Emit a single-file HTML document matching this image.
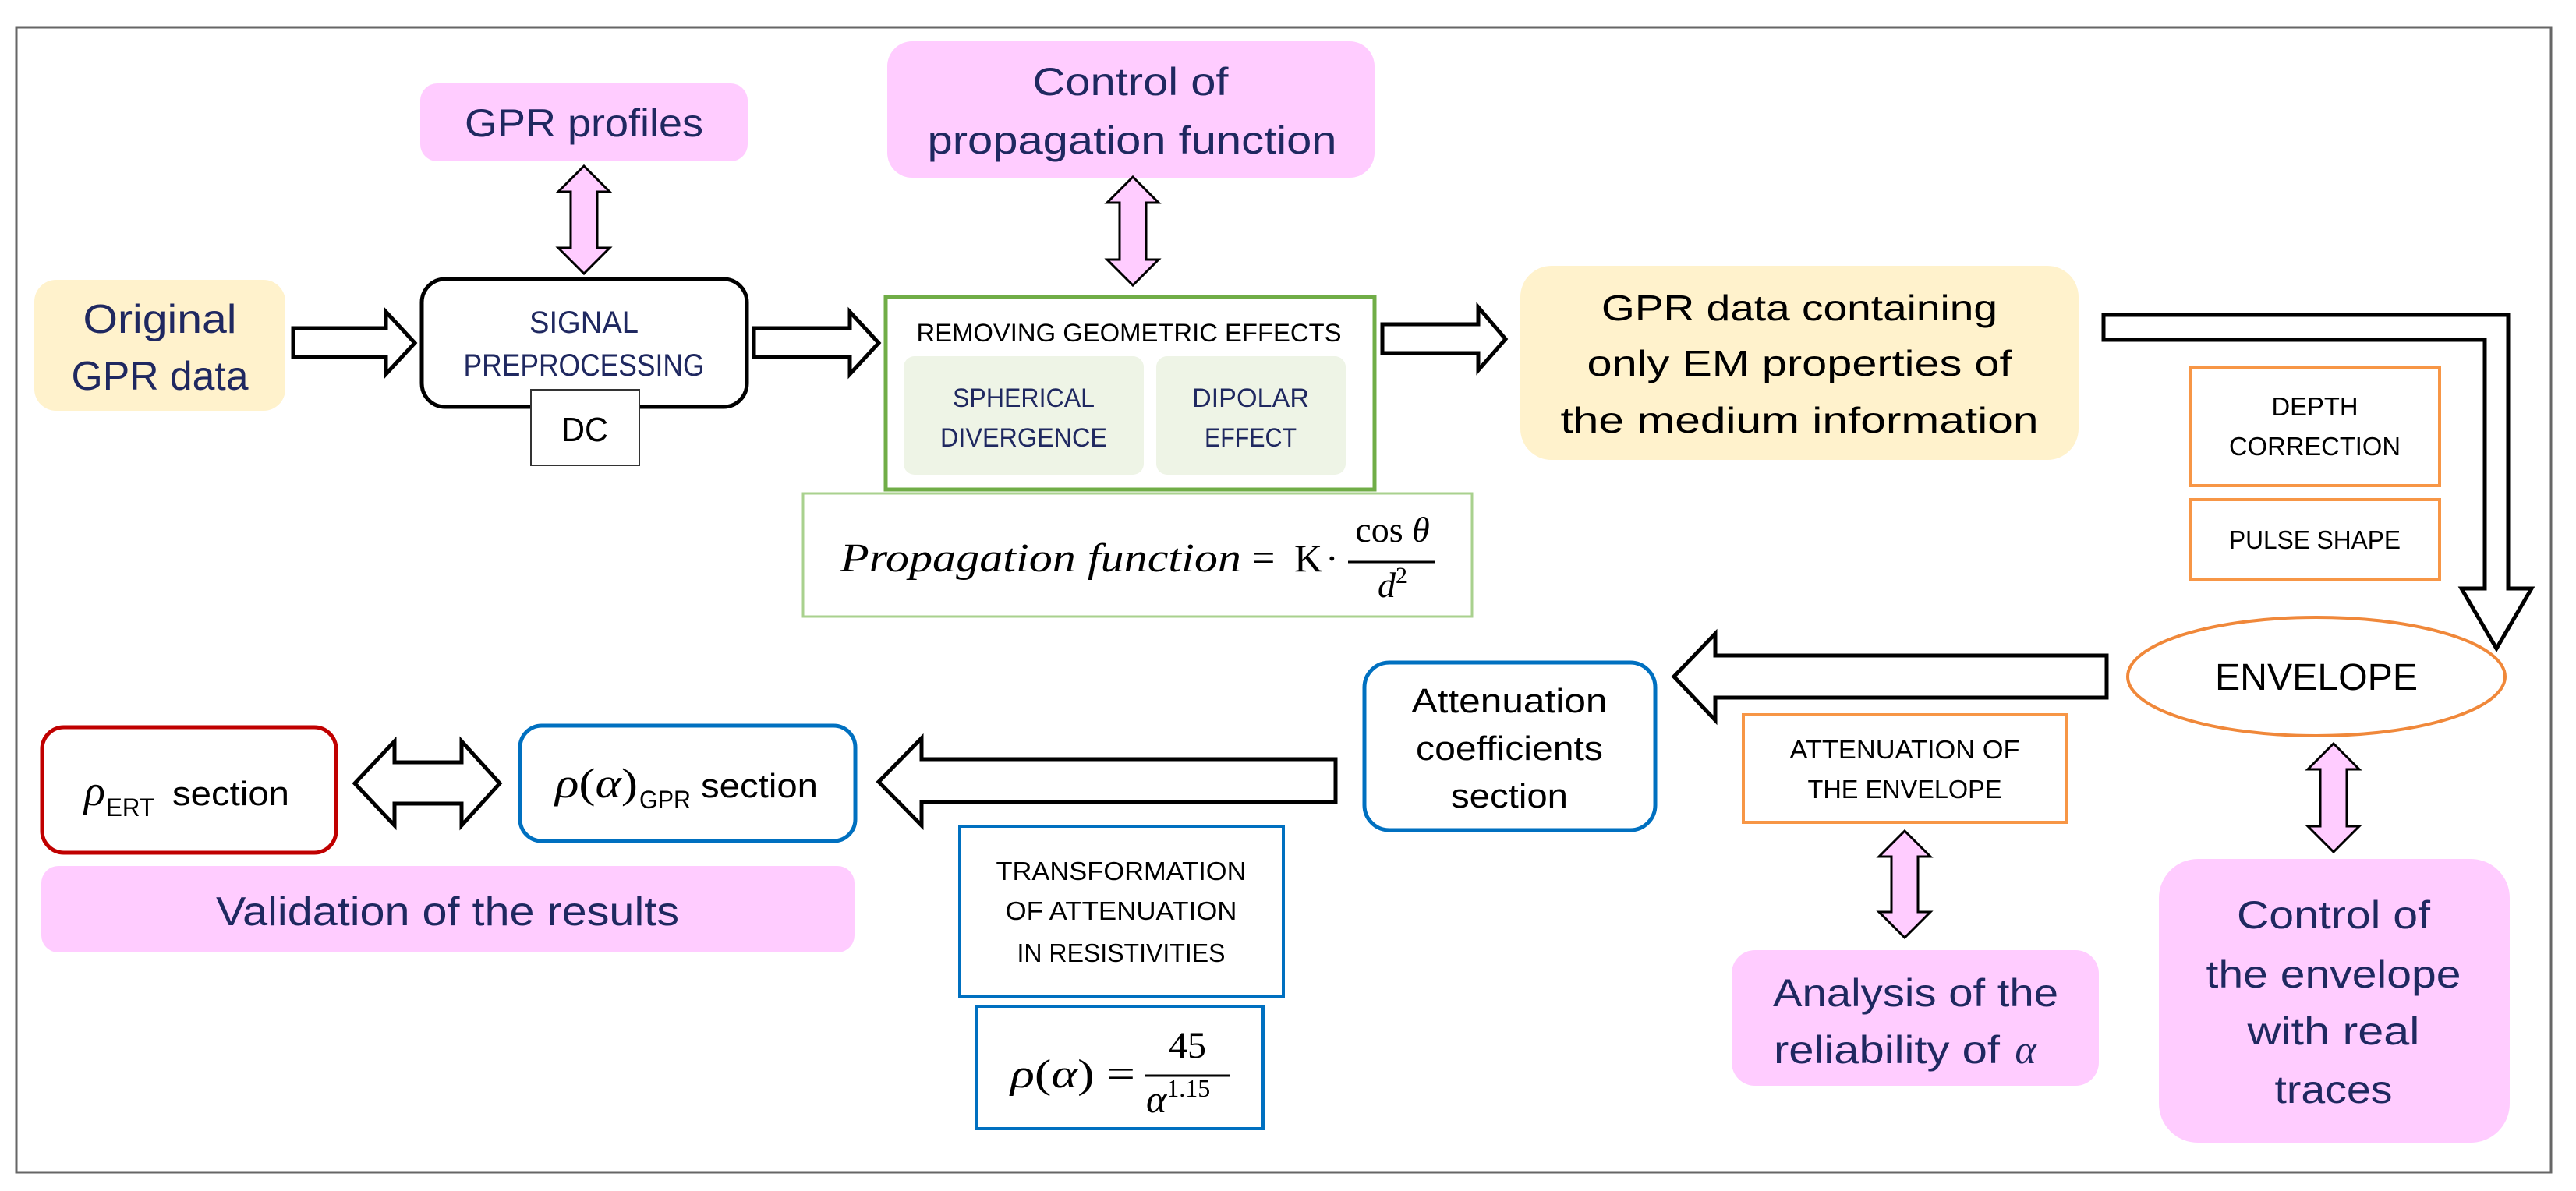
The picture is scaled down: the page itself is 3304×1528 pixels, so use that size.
<!DOCTYPE html>
<html><head><meta charset="utf-8"><style>
html,body{margin:0;padding:0;background:#fff}
svg{display:block}
text{font-family:"Liberation Sans",sans-serif}
.n{fill:#1f2860}
.k{fill:#000}
.m{font-family:"Liberation Serif",serif}
</style></head><body>
<svg width="3304" height="1528" viewBox="0 0 3304 1528" xmlns="http://www.w3.org/2000/svg">
<rect x="0" y="0" width="3304" height="1528" fill="#fff"/>
<rect x="21" y="35" width="3251" height="1469" fill="none" stroke="#666" stroke-width="3"/>

<rect x="539" y="107" width="420" height="100" rx="22" fill="#ffccff"/>
<text x="749" y="175" font-size="50" text-anchor="middle" class="n" textLength="306" lengthAdjust="spacingAndGlyphs">GPR profiles</text>
<rect x="1138" y="53" width="625" height="175" rx="32" fill="#ffccff"/>
<text x="1450" y="122" font-size="50" text-anchor="middle" class="n" textLength="251" lengthAdjust="spacingAndGlyphs">Control of</text>
<text x="1452" y="197" font-size="50" text-anchor="middle" class="n" textLength="525" lengthAdjust="spacingAndGlyphs">propagation function</text>

<g fill="#ffccff" stroke="#000" stroke-width="3" stroke-linejoin="miter">
<path d="M749,213 L782,246 L766,246 L766,318 L782,318 L749,351 L716,318 L732,318 L732,246 L716,246 Z"/>
<path d="M1453,227 L1486,260 L1470,260 L1470,333 L1486,333 L1453,366 L1420,333 L1436,333 L1436,260 L1420,260 Z"/>
<path d="M2443,1066 L2476,1099 L2460,1099 L2460,1170 L2476,1170 L2443,1203 L2410,1170 L2426,1170 L2426,1099 L2410,1099 Z"/>
<path d="M2993,954 L3026,987 L3010,987 L3010,1060 L3026,1060 L2993,1093 L2960,1060 L2976,1060 L2976,987 L2960,987 Z"/>
</g>

<rect x="44" y="359" width="322" height="168" rx="28" fill="#fff2cc"/>
<text x="205" y="427" font-size="52" text-anchor="middle" class="n" textLength="197" lengthAdjust="spacingAndGlyphs">Original</text>
<text x="205" y="500" font-size="52" text-anchor="middle" class="n" textLength="227" lengthAdjust="spacingAndGlyphs">GPR data</text>

<g fill="#fff" stroke="#000" stroke-width="5" stroke-linejoin="miter">
<path d="M376,421 L495,421 L495,400 L532,440 L495,480 L495,458 L376,458 Z"/>
<path d="M967,421 L1090,421 L1090,400 L1127,440 L1090,480 L1090,458 L967,458 Z"/>
<path d="M1773,416 L1896,416 L1896,394 L1931,435 L1896,475 L1896,453 L1773,453 Z"/>
<path d="M2698,404 L3217,404 L3217,755 L3247,755 L3202,832 L3157,755 L3187,755 L3187,436 L2698,436 Z"/>
<path d="M2702,841 L2200,841 L2200,813 L2147,868 L2200,924 L2200,895 L2702,895 Z"/>
<path d="M1713,974 L1182,974 L1182,947 L1127,1003 L1182,1059 L1182,1029 L1713,1029 Z"/>
<path d="M455,1005 L506,951 L506,978 L592,978 L592,951 L641,1005 L592,1059 L592,1031 L506,1031 L506,1059 Z"/>
</g>

<rect x="541" y="358" width="417" height="164" rx="30" fill="#fff" stroke="#000" stroke-width="5"/>
<text x="749" y="427" font-size="40" text-anchor="middle" class="n" textLength="140" lengthAdjust="spacingAndGlyphs">SIGNAL</text>
<text x="749" y="482" font-size="40" text-anchor="middle" class="n" textLength="309" lengthAdjust="spacingAndGlyphs">PREPROCESSING</text>
<rect x="681" y="500" width="139" height="97" fill="#fff" stroke="#333" stroke-width="2"/>
<text x="750" y="566" font-size="44" text-anchor="middle" class="k" textLength="60" lengthAdjust="spacingAndGlyphs">DC</text>

<rect x="1136" y="381" width="627" height="247" fill="#fff" stroke="#70ad47" stroke-width="5"/>
<text x="1448" y="438" font-size="32" text-anchor="middle" class="k" textLength="545" lengthAdjust="spacingAndGlyphs">REMOVING GEOMETRIC EFFECTS</text>
<rect x="1159" y="457" width="308" height="152" rx="14" fill="#eef4e6"/>
<rect x="1483" y="457" width="243" height="152" rx="14" fill="#eef4e6"/>
<text x="1313" y="522" font-size="34" text-anchor="middle" class="n" textLength="182" lengthAdjust="spacingAndGlyphs">SPHERICAL</text>
<text x="1313" y="573" font-size="34" text-anchor="middle" class="n" textLength="214" lengthAdjust="spacingAndGlyphs">DIVERGENCE</text>
<text x="1604" y="522" font-size="34" text-anchor="middle" class="n" textLength="150" lengthAdjust="spacingAndGlyphs">DIPOLAR</text>
<text x="1604" y="573" font-size="34" text-anchor="middle" class="n" textLength="118" lengthAdjust="spacingAndGlyphs">EFFECT</text>

<rect x="1030" y="633" width="858" height="158" fill="#fff" stroke="#a9d18e" stroke-width="3"/>
<text x="1078" y="733" font-size="52" class="k m" font-style="italic" textLength="514" lengthAdjust="spacingAndGlyphs">Propagation function</text>
<text x="1606" y="733" font-size="52" class="k m">=</text>
<text x="1660" y="733" font-size="50" class="k m">K</text>
<text x="1700" y="733" font-size="50" class="k m">·</text>
<text x="1786" y="695" font-size="46" text-anchor="middle" class="k m">cos <tspan font-style="italic">θ</tspan></text>
<line x1="1729" y1="721" x2="1841" y2="721" stroke="#000" stroke-width="3"/>
<text x="1786" y="766" font-size="46" text-anchor="middle" class="k m"><tspan font-style="italic">d</tspan><tspan font-size="30" dy="-18">2</tspan></text>

<rect x="1950" y="341" width="716" height="249" rx="40" fill="#fff2cc"/>
<text x="2308" y="411" font-size="46" text-anchor="middle" class="k" textLength="508" lengthAdjust="spacingAndGlyphs">GPR data containing</text>
<text x="2308" y="482" font-size="46" text-anchor="middle" class="k" textLength="545" lengthAdjust="spacingAndGlyphs">only EM properties of</text>
<text x="2308" y="555" font-size="46" text-anchor="middle" class="k" textLength="613" lengthAdjust="spacingAndGlyphs">the medium information</text>

<rect x="2809" y="471" width="320" height="152" fill="#fff" stroke="#f79646" stroke-width="4"/>
<text x="2969" y="533" font-size="33" text-anchor="middle" class="k" textLength="111" lengthAdjust="spacingAndGlyphs">DEPTH</text>
<text x="2969" y="584" font-size="33" text-anchor="middle" class="k" textLength="220" lengthAdjust="spacingAndGlyphs">CORRECTION</text>
<rect x="2809" y="641" width="320" height="103" fill="#fff" stroke="#f79646" stroke-width="4"/>
<text x="2969" y="704" font-size="33" text-anchor="middle" class="k" textLength="220" lengthAdjust="spacingAndGlyphs">PULSE SHAPE</text>

<ellipse cx="2971" cy="868" rx="242" ry="76" fill="#fff" stroke="#f0883a" stroke-width="4"/>
<text x="2971" y="885" font-size="48" text-anchor="middle" class="k" textLength="260" lengthAdjust="spacingAndGlyphs">ENVELOPE</text>

<rect x="1750" y="850" width="373" height="215" rx="32" fill="#fff" stroke="#0070c0" stroke-width="5"/>
<text x="1936" y="914" font-size="44" text-anchor="middle" class="k" textLength="251" lengthAdjust="spacingAndGlyphs">Attenuation</text>
<text x="1936" y="975" font-size="44" text-anchor="middle" class="k" textLength="240" lengthAdjust="spacingAndGlyphs">coefficients</text>
<text x="1936" y="1036" font-size="44" text-anchor="middle" class="k" textLength="150" lengthAdjust="spacingAndGlyphs">section</text>

<rect x="2236" y="917" width="414" height="138" fill="#fff" stroke="#f79646" stroke-width="4"/>
<text x="2443" y="973" font-size="33" text-anchor="middle" class="k" textLength="295" lengthAdjust="spacingAndGlyphs">ATTENUATION OF</text>
<text x="2443" y="1024" font-size="33" text-anchor="middle" class="k" textLength="249" lengthAdjust="spacingAndGlyphs">THE ENVELOPE</text>

<rect x="2221" y="1219" width="471" height="174" rx="30" fill="#ffccff"/>
<text x="2457" y="1291" font-size="50" text-anchor="middle" class="n" textLength="366" lengthAdjust="spacingAndGlyphs">Analysis of the</text>
<text x="2420" y="1364" font-size="50" text-anchor="middle" class="n" textLength="290" lengthAdjust="spacingAndGlyphs">reliability of</text>
<text x="2598" y="1364" font-size="52" text-anchor="middle" class="n m" font-style="italic">α</text>

<rect x="2769" y="1102" width="450" height="364" rx="50" fill="#ffccff"/>
<text x="2993" y="1191" font-size="50" text-anchor="middle" class="n" textLength="248" lengthAdjust="spacingAndGlyphs">Control of</text>
<text x="2993" y="1267" font-size="50" text-anchor="middle" class="n" textLength="327" lengthAdjust="spacingAndGlyphs">the envelope</text>
<text x="2993" y="1340" font-size="50" text-anchor="middle" class="n" textLength="221" lengthAdjust="spacingAndGlyphs">with real</text>
<text x="2993" y="1415" font-size="50" text-anchor="middle" class="n" textLength="151" lengthAdjust="spacingAndGlyphs">traces</text>

<rect x="54" y="933" width="377" height="161" rx="28" fill="#fff" stroke="#c00000" stroke-width="5"/>
<text x="108" y="1033" font-size="56" class="k m" font-style="italic">ρ</text>
<text x="136" y="1047" font-size="32" class="k" textLength="62" lengthAdjust="spacingAndGlyphs">ERT</text>
<text x="221" y="1033" font-size="44" class="k" textLength="150" lengthAdjust="spacingAndGlyphs">section</text>

<rect x="667" y="931" width="430" height="148" rx="28" fill="#fff" stroke="#0070c0" stroke-width="5"/>
<text x="712" y="1023" font-size="54" class="k m" textLength="106" lengthAdjust="spacingAndGlyphs"><tspan font-style="italic">ρ</tspan>(<tspan font-style="italic">α</tspan>)</text>
<text x="820" y="1037" font-size="32" class="k" textLength="66" lengthAdjust="spacingAndGlyphs">GPR</text>
<text x="899" y="1023" font-size="44" class="k" textLength="150" lengthAdjust="spacingAndGlyphs">section</text>

<rect x="53" y="1111" width="1043" height="111" rx="22" fill="#ffccff"/>
<text x="574" y="1187" font-size="52" text-anchor="middle" class="n" textLength="594" lengthAdjust="spacingAndGlyphs">Validation of the results</text>

<rect x="1231" y="1060" width="415" height="218" fill="#fff" stroke="#0070c0" stroke-width="4"/>
<text x="1438" y="1129" font-size="33" text-anchor="middle" class="k" textLength="321" lengthAdjust="spacingAndGlyphs">TRANSFORMATION</text>
<text x="1438" y="1180" font-size="33" text-anchor="middle" class="k" textLength="297" lengthAdjust="spacingAndGlyphs">OF ATTENUATION</text>
<text x="1438" y="1234" font-size="33" text-anchor="middle" class="k" textLength="267" lengthAdjust="spacingAndGlyphs">IN RESISTIVITIES</text>
<rect x="1252" y="1291" width="368" height="157" fill="#fff" stroke="#0070c0" stroke-width="4"/>
<text x="1296" y="1395" font-size="52" class="k m" textLength="160" lengthAdjust="spacingAndGlyphs"><tspan font-style="italic">ρ</tspan>(<tspan font-style="italic">α</tspan>) =</text>
<text x="1523" y="1357" font-size="48" text-anchor="middle" class="k m">45</text>
<line x1="1468" y1="1380" x2="1577" y2="1380" stroke="#000" stroke-width="3"/>
<text x="1470" y="1427" font-size="50" class="k m"><tspan font-style="italic">α</tspan><tspan font-size="32" dy="-20">1.15</tspan></text>
</svg>
</body></html>
